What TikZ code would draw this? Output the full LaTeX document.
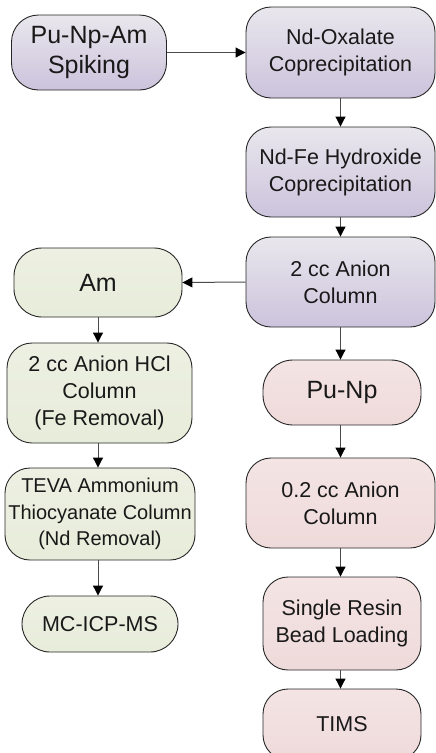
\documentclass[tikz,border=0pt]{standalone}
\usepackage{fontspec}
\setmainfont{Liberation Sans}
\usetikzlibrary{arrows.meta}
\definecolor{purtop}{HTML}{E9E7ED}
\definecolor{purbot}{HTML}{CCC3DC}
\definecolor{grntop}{HTML}{EDF0E2}
\definecolor{grnbot}{HTML}{E8ECDA}
\definecolor{pnktop}{HTML}{F4E4E4}
\definecolor{pnkbot}{HTML}{EFDADA}
\definecolor{edgec}{HTML}{262626}
\definecolor{linec}{HTML}{4A4A4A}
\tikzset{
  boxbase/.style={draw=edgec, line width=0.9pt, rounded corners=25pt, align=center,
    inner sep=0pt, text=black!90, font=\fontsize{21.5}{27}\selectfont},
  bigtext/.style={font=\fontsize{25}{29.5}\selectfont},
  purbox/.style={boxbase, top color=purtop, bottom color=purbot},
  grnbox/.style={boxbase, top color=grntop, bottom color=grnbot},
  pnkbox/.style={boxbase, top color=pnktop, bottom color=pnkbot},
  conn/.style={draw=linec, line width=1pt, -{Triangle[length=10pt,width=10pt,fill=black,color=black]}}
}
\begin{document}
\begin{tikzpicture}[x=1pt,y=-1pt]
\useasboundingbox (0,0) rectangle (436,753);
% purple column
\node[purbox,bigtext,minimum width=155pt,minimum height=75pt,rounded corners=27pt] (spike) at (89,52.5) {Pu-Np-Am\\Spiking};
\node[purbox,minimum width=189pt,minimum height=91pt] (oxal) at (340.5,52.5) {Nd-Oxalate\\Coprecipitation};
\node[purbox,minimum width=189pt,minimum height=90pt] (hydr) at (340.5,172) {Nd-Fe Hydroxide\\Coprecipitation};
\node[purbox,minimum width=189pt,minimum height=90pt] (an2) at (340.5,282) {2 cc Anion\\Column};
% green column
\node[grnbox,bigtext,minimum width=168pt,minimum height=69pt,rounded corners=28pt] (am) at (98,282.5) {Am};
\node[grnbox,minimum width=185pt,minimum height=100pt] (hcl) at (99.5,393) {2 cc Anion HCl\\Column\\(Fe Removal)};
\node[grnbox,font=\fontsize{20}{26.5}\selectfont,minimum width=190pt,minimum height=92pt] (teva) at (100,514) {TEVA Ammonium\\Thiocyanate Column\\(Nd Removal)};
\node[grnbox,minimum width=156pt,minimum height=56pt,rounded corners=28pt] (mc) at (100,624) {MC-ICP-MS};
% pink column
\node[pnkbox,bigtext,minimum width=158pt,minimum height=65pt,rounded corners=30pt] (punp) at (342,392.5) {Pu-Np};
\node[pnkbox,minimum width=189pt,minimum height=90pt] (an02) at (340.5,503) {0.2 cc Anion\\Column};
\node[pnkbox,minimum width=158pt,minimum height=93pt] (resin) at (342,623.5) {Single Resin\\Bead Loading};
\node[pnkbox,minimum width=158pt,minimum height=71pt] (tims) at (342,724.5) {TIMS};
% connectors
\draw[conn] (spike.east) -- (oxal.west);
\draw[conn] (oxal.south) -- (hydr.north);
\draw[conn] (hydr.south) -- (an2.north);
\draw[conn] (an2.west) -- (am.east);
\draw[conn] (an2.south) -- (an2.south |- punp.north);
\draw[conn] (an02.north |- punp.south) -- (an02.north);
\draw[conn] (an02.south) -- (an02.south |- resin.north);
\draw[conn] (an02.south |- resin.south) -- (an02.south |- tims.north);
\draw[conn] (am.south) -- (am.south |- hcl.north);
\draw[conn] (am.south |- hcl.south) -- (am.south |- teva.north);
\draw[conn] (am.south |- teva.south) -- (am.south |- mc.north);
\end{tikzpicture}
\end{document}
